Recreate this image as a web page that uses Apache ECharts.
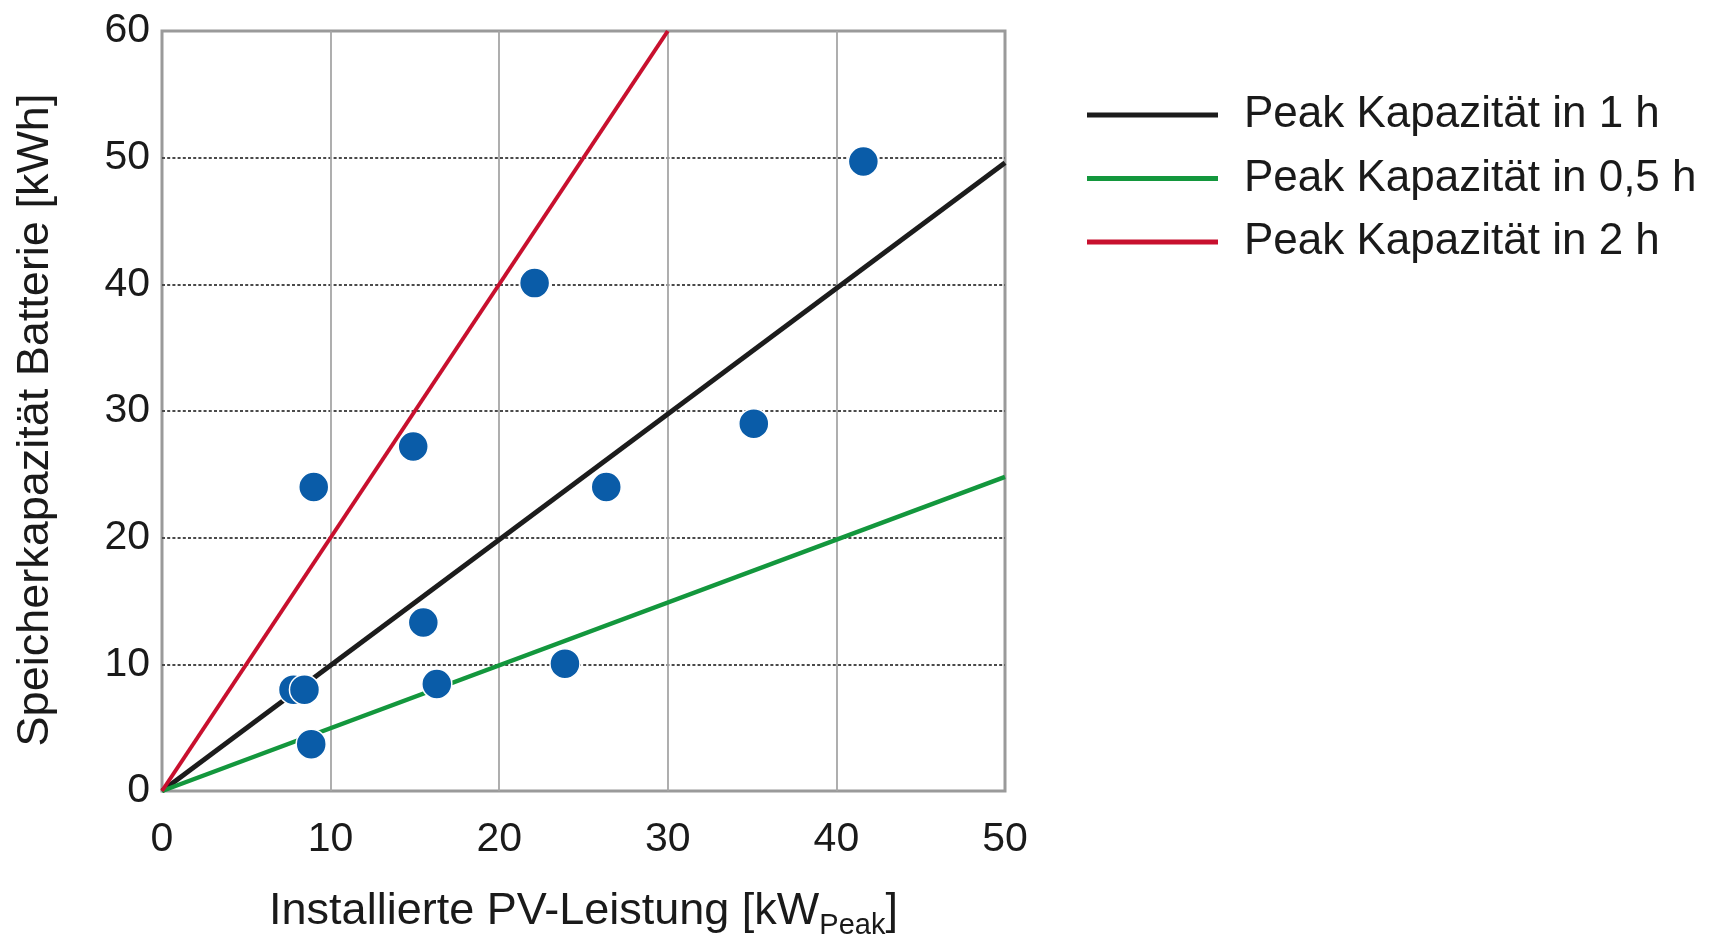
<!DOCTYPE html>
<html>
<head>
<meta charset="utf-8">
<script src="https://cdn.jsdelivr.net/npm/echarts@6/dist/echarts.min.js"></script>
<style>
  html, body { margin: 0; padding: 0; background: #fff; }
  #chart { width: 1713px; height: 937px; }
</style>
</head>
<body>
<div id="chart"></div>
<script>
// installierte PV-Leistung [kWp] und Speicherkapazität [kWh] der Anlagen
const pvPower = [41.6, 22.1, 14.9, 9.0, 35.1, 26.35, 15.5, 23.9, 16.3, 7.8, 8.45, 8.85];
const storage = [49.7, 40.1, 27.2, 24.0, 29.0, 24.0, 13.3, 10.05, 8.45, 8.0, 8.0, 3.7];

// Referenzlinien (Endpunkte)
const line1h = [[0, 0], [50, 49.6]];
const line05h = [[0, 0], [50, 24.8]];
const line2h = [[0, 0], [30, 60]];

const legendNames = ['Peak Kapazität in 1 h', 'Peak Kapazität in 0,5 h', 'Peak Kapazität in 2 h'];

const font = 'Liberation Sans, Arial, sans-serif';
const textColor = '#1a1a1a';

var chart = echarts.init(document.getElementById('chart'));

var points = pvPower.map(function (x, i) {
    return [x, storage[i]];
});

chart.setOption({
    animation: false,
    grid: {
        left: 162,
        right: 708,
        top: 31,
        bottom: 146,
        outerBoundsMode: 'none',
        show: true,
        borderColor: '#9a9a9a',
        borderWidth: 3,
        backgroundColor: '#fff'
    },
    legend: {
        data: legendNames,
        orient: 'vertical',
        left: 1087,
        top: 93,
        padding: 0,
        icon: 'rect',
        itemWidth: 131,
        itemHeight: 5,
        itemGap: 19.5,
        textStyle: {
            fontFamily: font,
            fontSize: 44,
            color: textColor,
            lineHeight: 44,
            padding: [0, 0, 0, 21]
        }
    },
    xAxis: {
        type: 'value',
        min: 0,
        max: 50,
        interval: 10,
        name: '{a|Installierte PV-Leistung [kW}{b|Peak}{a|]}',
        nameLocation: 'middle',
        nameGap: 93,
        nameTextStyle: {
            rich: {
                a: {
                    fontFamily: font,
                    fontSize: 45,
                    color: textColor,
                    lineHeight: 56,
                    verticalAlign: 'middle'
                },
                b: {
                    fontFamily: font,
                    fontSize: 29,
                    color: textColor,
                    lineHeight: 29,
                    verticalAlign: 'bottom'
                }
            }
        },
        axisLine: { show: false },
        axisTick: { show: false },
        axisLabel: {
            margin: 28,
            fontFamily: font,
            fontSize: 41,
            color: textColor
        },
        splitLine: {
            show: true,
            showMinLine: false,
            showMaxLine: false,
            lineStyle: { color: '#a6a6a6', width: 1.8, type: 'solid' }
        }
    },
    yAxis: {
        type: 'value',
        min: 0,
        max: 60,
        interval: 10,
        name: 'Speicherkapazität Batterie [kWh]',
        nameLocation: 'middle',
        nameGap: 104,
        nameTextStyle: {
            fontFamily: font,
            fontSize: 45,
            color: textColor,
            padding: [0, 18, 0, 0]
        },
        axisLine: { show: false },
        axisTick: { show: false },
        axisLabel: {
            margin: 12,
            fontFamily: font,
            fontSize: 41,
            color: textColor
        },
        splitLine: {
            show: true,
            showMinLine: false,
            showMaxLine: false,
            lineStyle: { color: '#4a4a4a', width: 1.8, type: [3, 2.2] }
        }
    },
    series: [
        {
            name: legendNames[0],
            type: 'line',
            data: line1h,
            showSymbol: false,
            color: '#1c1c1c',
            lineStyle: { color: '#1c1c1c', width: 4.8 },
            z: 3
        },
        {
            name: legendNames[1],
            type: 'line',
            data: line05h,
            showSymbol: false,
            color: '#13973d',
            lineStyle: { color: '#13973d', width: 4.5 },
            z: 3
        },
        {
            name: legendNames[2],
            type: 'line',
            data: line2h,
            showSymbol: false,
            color: '#c8102e',
            lineStyle: { color: '#c8102e', width: 4 },
            z: 3
        },
        {
            name: 'Anlagen',
            type: 'scatter',
            data: points,
            symbolSize: 30,
            itemStyle: {
                color: '#0a5ca8',
                borderColor: '#ffffff',
                borderWidth: 1.5,
                opacity: 1
            },
            z: 5
        }
    ]
});
</script>
</body>
</html>
